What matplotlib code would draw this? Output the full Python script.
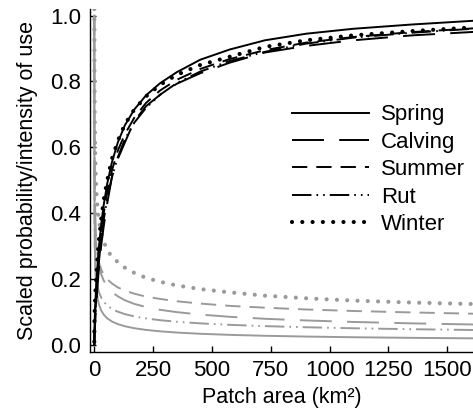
import matplotlib
matplotlib.use("Agg")
import matplotlib.pyplot as plt
from matplotlib.lines import Line2D

plt.rcParams['font.family'] = ['Liberation Sans', 'DejaVu Sans']
plt.rcParams['lines.scale_dashes'] = False

# Patch area (km2) sample points
area = [0.1, 0.5, 1, 2, 4, 7, 10, 15, 20, 30, 40, 55, 75, 100, 130, 170,
        220, 280, 350, 450, 575, 725, 900, 1100, 1350, 1650]

# Probability of use (black)
prob_spring = [0.0, 0.03, 0.05, 0.08, 0.12, 0.165, 0.20, 0.255, 0.30, 0.37, 0.425, 0.49,
               0.555, 0.615, 0.667, 0.715, 0.758, 0.795, 0.828, 0.866, 0.897, 0.925,
               0.945, 0.96, 0.973, 0.986]
prob_calving = [0.0, 0.01, 0.02, 0.04, 0.07, 0.105, 0.14, 0.19, 0.235, 0.305, 0.36, 0.43,
                0.51, 0.565, 0.615, 0.68, 0.725, 0.76, 0.793, 0.825, 0.857, 0.888,
                0.908, 0.925, 0.94, 0.952]
prob_summer = [0.0, 0.02, 0.04, 0.065, 0.10, 0.14, 0.175, 0.23, 0.275, 0.345, 0.40, 0.465,
               0.53, 0.59, 0.64, 0.69, 0.735, 0.773, 0.805, 0.838, 0.868, 0.895,
               0.918, 0.935, 0.95, 0.963]
prob_rut = [0.0, 0.015, 0.03, 0.05, 0.085, 0.125, 0.16, 0.21, 0.255, 0.325, 0.38, 0.445,
            0.51, 0.57, 0.625, 0.675, 0.72, 0.76, 0.795, 0.83, 0.862, 0.89,
            0.915, 0.933, 0.948, 0.962]
prob_winter = [0.01, 0.05, 0.08, 0.11, 0.15, 0.19, 0.225, 0.28, 0.32, 0.385, 0.44, 0.50,
               0.565, 0.62, 0.67, 0.715, 0.755, 0.79, 0.82, 0.85, 0.875, 0.905,
               0.925, 0.94, 0.953, 0.966]

# Intensity of use (grey)
int_spring = [1.0, 0.558, 0.42, 0.316, 0.238, 0.189, 0.163, 0.138, 0.123, 0.104, 0.0926,
              0.0812, 0.0715, 0.0636, 0.0571, 0.0511, 0.046, 0.0417, 0.038, 0.0343,
              0.031, 0.0282, 0.0258, 0.0238, 0.0219, 0.0202]
int_calving = [1.0, 0.763, 0.615, 0.496, 0.40, 0.336, 0.301, 0.266, 0.243, 0.214, 0.196,
               0.178, 0.161, 0.148, 0.136, 0.125, 0.1155, 0.107, 0.100, 0.0926, 0.0858,
               0.0798, 0.0747, 0.0702, 0.0659, 0.0619]
int_summer = [1.0, 0.563, 0.483, 0.415, 0.356, 0.315, 0.291, 0.266, 0.250, 0.229, 0.214,
              0.200, 0.187, 0.175, 0.1655, 0.156, 0.147, 0.140, 0.133, 0.126, 0.119,
              0.1135, 0.108, 0.1035, 0.099, 0.0946]
int_rut = [1.0, 0.461, 0.378, 0.310, 0.254, 0.217, 0.196, 0.174, 0.160, 0.143, 0.1316,
           0.120, 0.110, 0.1013, 0.094, 0.087, 0.0808, 0.0755, 0.0708, 0.0659, 0.0614,
           0.0575, 0.0541, 0.051, 0.0481, 0.0454]
int_winter = [1.02, 0.98, 0.82, 0.685, 0.572, 0.494, 0.451, 0.406, 0.376, 0.339, 0.314,
              0.289, 0.267, 0.252, 0.235, 0.219, 0.204, 0.192, 0.181, 0.170, 0.160,
              0.150, 0.142, 0.135, 0.129, 0.124]

seasons = ["Spring", "Calving", "Summer", "Rut", "Winter"]
prob = [prob_spring, prob_calving, prob_summer, prob_rut, prob_winter]
inten = [int_spring, int_calving, int_summer, int_rut, int_winter]

xticks = [0, 250, 500, 750, 1000, 1250, 1500]
yticks = [0.0, 0.2, 0.4, 0.6, 0.8, 1.0]

styles = {
    "Spring": dict(linestyle='-', lw=1.4),
    "Calving": dict(linestyle=(0, (23, 11)), lw=1.4),
    "Summer": dict(linestyle=(0, (11, 6.5)), lw=1.4),
    "Rut": dict(linestyle=(0, (14, 3.6, 1.2, 3.6, 1.2, 3.6)), lw=1.4),
    "Winter": dict(linestyle=(0, (0.01, 7.4)), lw=3.0, dash_capstyle='round'),
}

fig = plt.figure(figsize=(4.73, 4.17), dpi=100)
ax = fig.add_axes([0.1896, 0.1559, 0.8104, 0.8225])

grey = '#9a9a9a'
for s, y in zip(seasons, inten):
    ax.plot(area, y, color=grey, **styles[s])
for s, y in zip(seasons, prob):
    ax.plot(area, y, color='black', **styles[s])

ax.set_xlim(-19.5, 1609)
ax.set_ylim(-0.021, 1.02)
ax.set_xticks(xticks)
ax.set_yticks(yticks)
ax.set_yticklabels([f"{v:.1f}" for v in yticks])
ax.tick_params(direction='in', length=4, width=1, labelsize=16, pad=6)
for sp in ['top', 'right']:
    ax.spines[sp].set_visible(False)
for sp in ['left', 'bottom']:
    ax.spines[sp].set_linewidth(1.0)

ax.set_xlabel("Patch area (km²)", fontsize=15.5)
ax.xaxis.set_label_coords(0.5, -0.134)
ax.xaxis.label.set_va('center')
ax.set_ylabel("Scaled probability/intensity of use", fontsize=15.5)
ax.yaxis.set_label_coords(-0.163, 0.5)
ax.yaxis.label.set_va('center')

handles = [Line2D([0], [0], color='black', **styles[s]) for s in seasons]
ax.legend(handles, seasons, loc='upper left', bbox_to_anchor=(0.527, 0.722),
          frameon=False, fontsize=16, handlelength=3.5, handletextpad=0.53,
          labelspacing=0.29, borderpad=0, borderaxespad=0)

fig.savefig("out.png", dpi=100)
